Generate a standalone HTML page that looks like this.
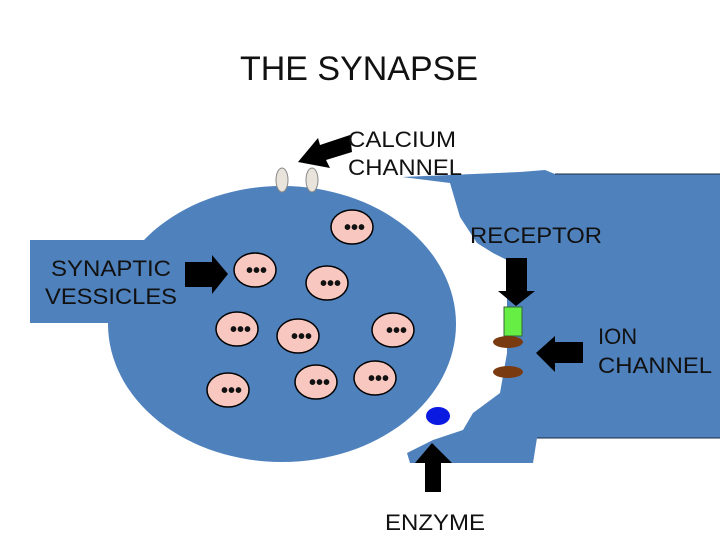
<!DOCTYPE html>
<html><head><style>
body{margin:0;background:#fff;}
svg{display:block}
text{font-family:"Liberation Sans",sans-serif;fill:#111;}
</style></head><body>
<svg width="720" height="540" viewBox="0 0 720 540">
<text x="240" y="80" font-size="34" fill="#000" textLength="238" lengthAdjust="spacingAndGlyphs">THE SYNAPSE</text>
<!-- postsynaptic -->
<path d="M402,177 L450,183 L460,217 L477,243 L493,253 L507,260 L507,353 L500,393 L473,413 L463,430 L433,440 L407,453 L410,463 L533,463 L537,438 L720,438 L720,174 L555,174 L545,170 L520,172 Z" fill="#4f81bd"/>
<line x1="555" y1="174" x2="720" y2="174" stroke="#1a2a44" stroke-width="1"/>
<line x1="537" y1="438" x2="720" y2="438" stroke="#1a2a44" stroke-width="1"/>
<!-- presynaptic -->
<rect x="30" y="240" width="120" height="83" fill="#4f81bd"/>
<ellipse cx="282" cy="324" rx="174" ry="138" fill="#4f81bd"/>
<!-- calcium channels -->
<ellipse cx="282" cy="180" rx="6" ry="12" fill="#e8e4dc" stroke="#888"/>
<ellipse cx="312" cy="180" rx="6" ry="12" fill="#e8e4dc" stroke="#888"/>
<g stroke="#000" stroke-width="1.5" fill="#f8c8c0">
<ellipse cx="352" cy="227" rx="21" ry="17"/>
<ellipse cx="255" cy="270" rx="21" ry="17"/>
<ellipse cx="327" cy="283" rx="21" ry="17"/>
<ellipse cx="237" cy="329" rx="21" ry="17"/>
<ellipse cx="298" cy="336" rx="21" ry="17"/>
<ellipse cx="393" cy="330" rx="21" ry="17"/>
<ellipse cx="228" cy="390" rx="21" ry="17"/>
<ellipse cx="316" cy="382" rx="21" ry="17"/>
<ellipse cx="375" cy="378" rx="21" ry="17"/>
</g>
<g fill="#000">
<text x="344" y="234" font-size="20" font-weight="bold">•••</text>
<text x="246" y="277" font-size="20" font-weight="bold">•••</text>
<text x="320" y="290" font-size="20" font-weight="bold">•••</text>
<text x="230" y="336" font-size="20" font-weight="bold">•••</text>
<text x="291" y="343" font-size="20" font-weight="bold">•••</text>
<text x="386" y="337" font-size="20" font-weight="bold">•••</text>
<text x="221" y="397" font-size="20" font-weight="bold">•••</text>
<text x="309" y="389" font-size="20" font-weight="bold">•••</text>
<text x="368" y="385" font-size="20" font-weight="bold">•••</text>
</g>
<!-- receptor, ion channels, enzyme -->
<rect x="504" y="307" width="18" height="29" fill="#66ee44" stroke="#336633"/>
<ellipse cx="508" cy="342" rx="15" ry="6" fill="#7a3a10"/>
<ellipse cx="508" cy="372" rx="15" ry="6" fill="#7a3a10"/>
<ellipse cx="438" cy="416" rx="12" ry="9" fill="#0b1ae0"/>
<!-- arrows -->
<g fill="#000">
<polygon points="350,135 320,145 318,138 298,162 330,168 326,160 352,152"/>
<polygon points="185,262 212,262 212,255 228,274 212,294 212,287 185,287"/>
<polygon points="506,258 527,258 527,291 535,291 516,306 498,291 506,291"/>
<polygon points="583,342 555,342 555,336 536,353 555,372 555,363 583,363"/>
<polygon points="425,492 425,463 415,463 432,443 452,463 441,463 441,492"/>
</g>
<g font-size="22">
<text x="348" y="147" textLength="108" lengthAdjust="spacingAndGlyphs">CALCIUM</text>
<text x="348" y="175" textLength="114" lengthAdjust="spacingAndGlyphs">CHANNEL</text>
<text x="51" y="276" textLength="120" lengthAdjust="spacingAndGlyphs">SYNAPTIC</text>
<text x="45" y="304" textLength="132" lengthAdjust="spacingAndGlyphs">VESSICLES</text>
<text x="470" y="243" textLength="132" lengthAdjust="spacingAndGlyphs">RECEPTOR</text>
<text x="598" y="344">ION</text>
<text x="598" y="373" textLength="114" lengthAdjust="spacingAndGlyphs">CHANNEL</text>
<text x="385" y="530" textLength="100" lengthAdjust="spacingAndGlyphs">ENZYME</text>
</g>
</svg>
</body></html>
